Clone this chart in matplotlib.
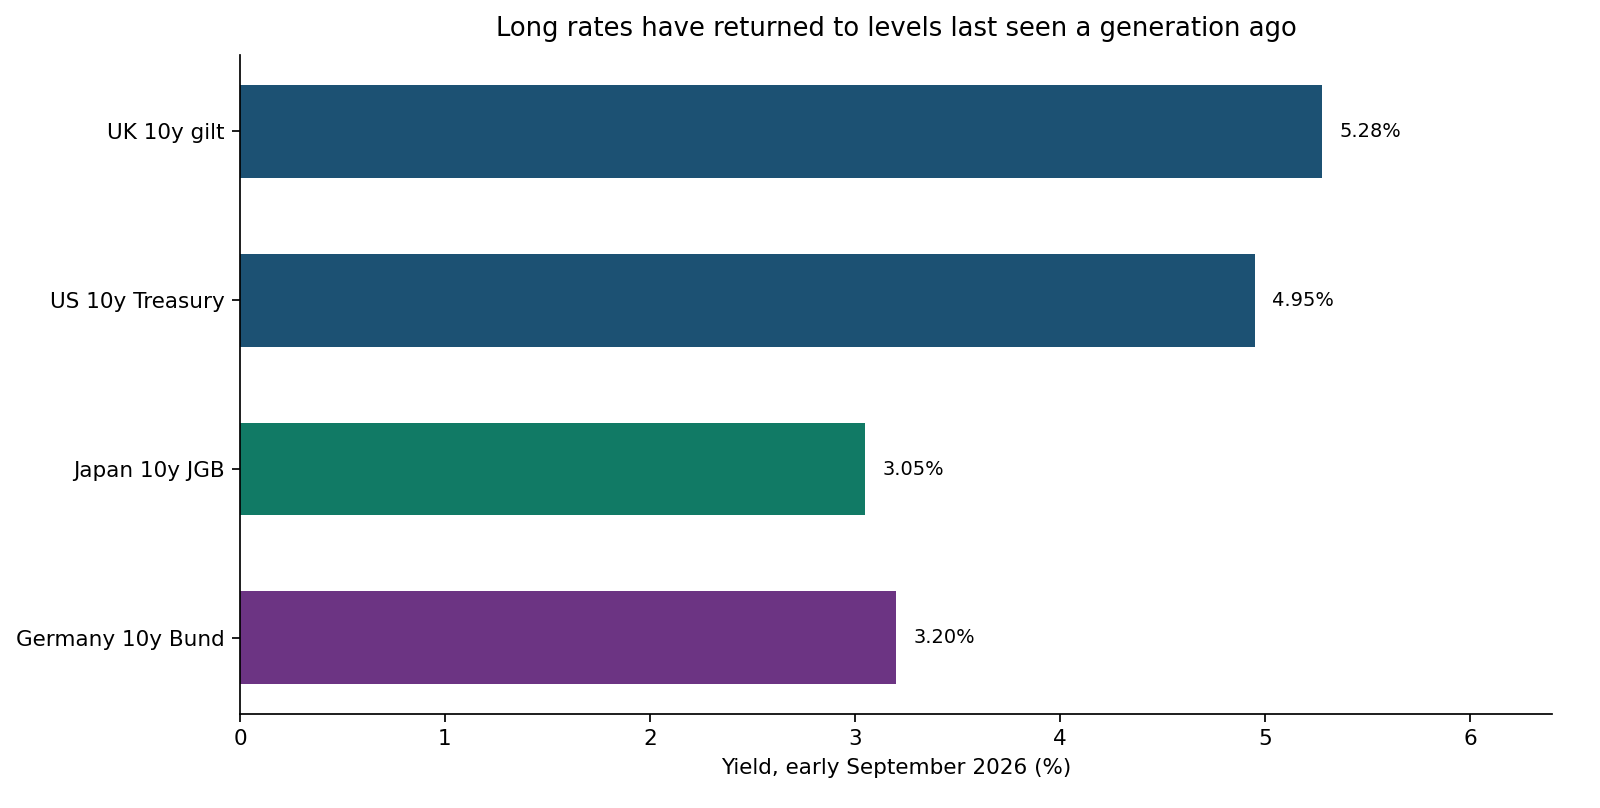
import matplotlib
matplotlib.use("Agg")
import matplotlib.pyplot as plt

labels = ["UK 10y gilt", "US 10y Treasury", "Japan 10y JGB", "Germany 10y Bund"]
values = [5.28, 4.95, 3.05, 3.20]
colors = ["#1c5173", "#1c5173", "#117a65", "#6c3483"]

DPI = 155
fig, ax = plt.subplots(figsize=(1600 / DPI, 808 / DPI), dpi=DPI)
fig.subplots_adjust(left=0.15, right=0.97, bottom=0.116, top=0.932)

ypos = list(range(len(labels)))[::-1]
ax.barh(ypos, values, height=0.55, color=colors)
ax.set_yticks(ypos)
ax.set_yticklabels(labels)
for y, v in zip(ypos, values):
    ax.annotate(f"{v:.2f}%", xy=(v, y), xytext=(8, 0), textcoords="offset points",
                va="center", ha="left", fontsize=9)
ax.set_xlim(0, 6.4)
ax.set_xlabel("Yield, early September 2026 (%)")
ax.set_title("Long rates have returned to levels last seen a generation ago", fontsize=12, pad=9)
ax.spines["top"].set_visible(False)
ax.spines["right"].set_visible(False)
fig.savefig("out.png", dpi=DPI)
